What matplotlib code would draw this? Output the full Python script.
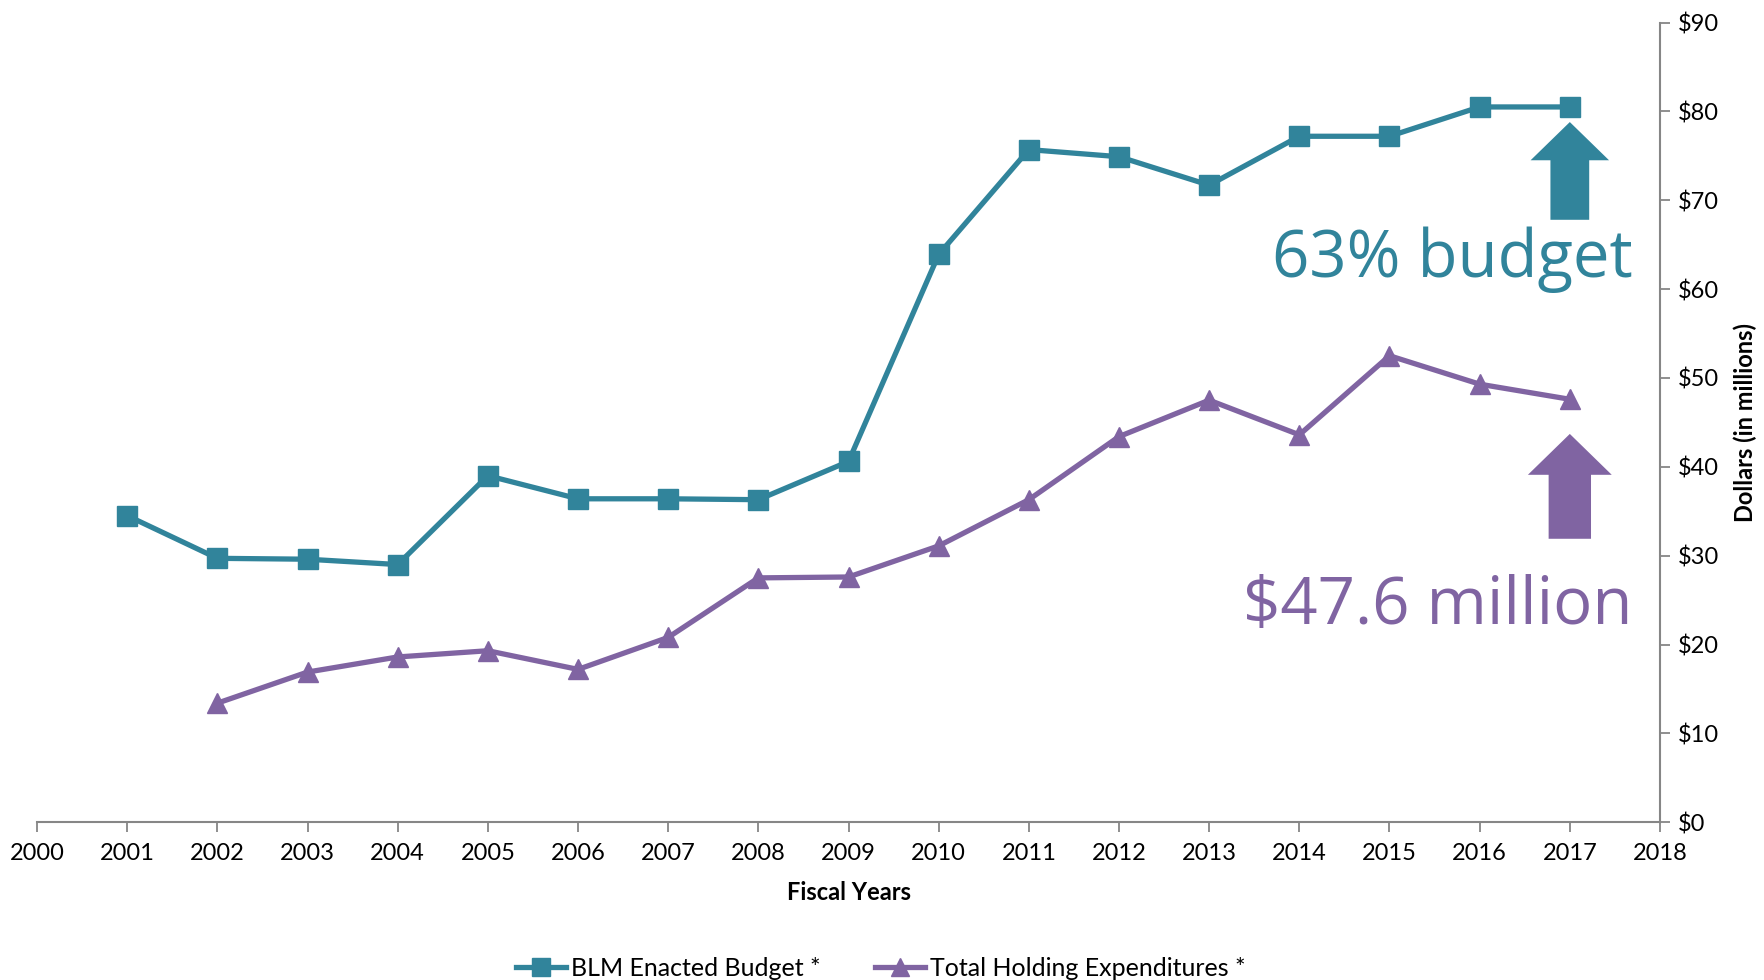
import matplotlib.pyplot as plt
from matplotlib.ticker import FuncFormatter

# data
years_budget = [2001, 2002, 2003, 2004, 2005, 2006, 2007, 2008, 2009,
                2010, 2011, 2012, 2013, 2014, 2015, 2016, 2017]
budget = [34.5, 29.7, 29.6, 29.0, 39.0, 36.4, 36.4, 36.3, 40.6,
          63.9, 75.7, 74.9, 71.7, 77.2, 77.2, 80.5, 80.5]

years_holding = [2002, 2003, 2004, 2005, 2006, 2007, 2008, 2009,
                 2010, 2011, 2012, 2013, 2014, 2015, 2016, 2017]
holding = [13.4, 16.9, 18.6, 19.3, 17.2, 20.8, 27.5, 27.6,
           31.1, 36.3, 43.4, 47.5, 43.6, 52.5, 49.3, 47.6]

teal = '#31849B'
purple = '#8064A2'
grey = '#868686'

plt.rcParams['font.family'] = ['Lato', 'DejaVu Sans']

fig = plt.figure(figsize=(17.65, 9.8), dpi=100)
ax = fig.add_axes([0.021, 0.161, 0.9195, 0.816])

ax.plot(years_budget, budget, color=teal, lw=3.8, marker='s', ms=14,
        label='BLM Enacted Budget *')
ax.plot(years_holding, holding, color=purple, lw=3.8, marker='^', ms=15,
        label='Total Holding Expenditures *')

# big arrows and callouts
ax.arrow(2017, 67.8, 0, 11.0, width=0.43, head_width=0.87, head_length=4.3,
         length_includes_head=True, color=teal, lw=0)
ax.arrow(2017, 31.9, 0, 11.8, width=0.47, head_width=0.93, head_length=4.6,
         length_includes_head=True, color=purple, lw=0)
ax.text(2017.7, 63.3, '63% budget', color=teal, fontsize=47,
        family='Open Sans', ha='right', va='center')
ax.text(2017.7, 24.2, '$47.6 million', color=purple, fontsize=47,
        family='Open Sans', ha='right', va='center')

ax.set_xlim(2000, 2018)
ax.set_ylim(0, 90)
ax.set_xticks(range(2000, 2019))
ax.set_yticks(range(0, 91, 10))
ax.yaxis.set_major_formatter(FuncFormatter(lambda v, p: '${:.0f}'.format(v)))

ax.spines['left'].set_visible(False)
ax.spines['top'].set_visible(False)
ax.spines['right'].set_color(grey)
ax.spines['bottom'].set_color(grey)
ax.spines['right'].set_linewidth(1.5)
ax.spines['bottom'].set_linewidth(1.5)
ax.yaxis.tick_right()
ax.yaxis.set_label_position('right')
ax.tick_params(axis='both', direction='out', length=7, width=1.3,
               color=grey, labelsize=17)
ax.tick_params(axis='y', pad=6)
ax.tick_params(axis='x', pad=8)

ax.set_xlabel('Fiscal Years', fontsize=17, fontweight='bold', labelpad=12)
ax.set_ylabel('Dollars (in millions)', fontsize=17, fontweight='bold',
              labelpad=10)

ax.legend(loc='upper center', bbox_to_anchor=(0.52, -0.14), ncol=2,
          frameon=False, fontsize=18, handlelength=2.0, handletextpad=0.2,
          columnspacing=2.2, markerscale=0.9)

fig.savefig('out.png', dpi=100)
